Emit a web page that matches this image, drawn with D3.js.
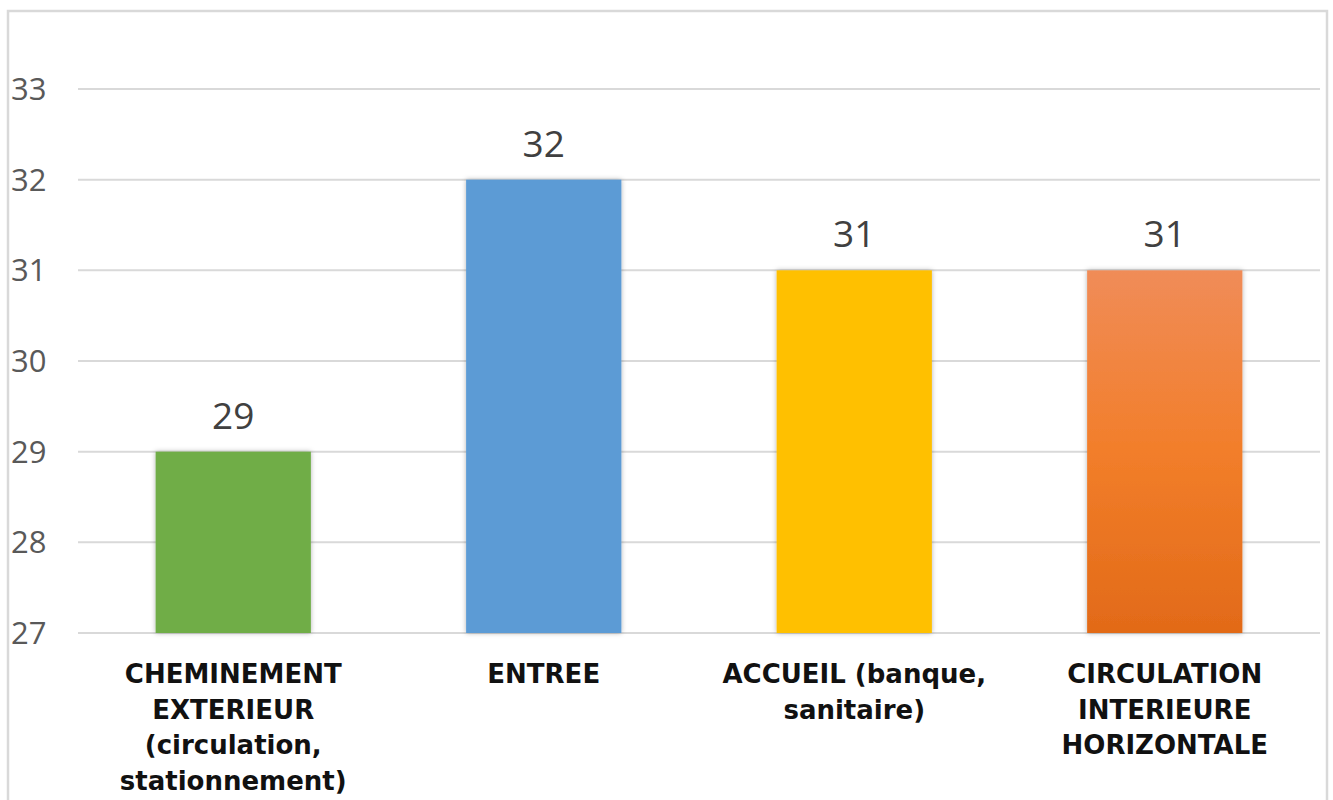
<!DOCTYPE html>
<html>
<head>
<meta charset="utf-8">
<script src="https://cdn.jsdelivr.net/npm/d3@7"></script>
<style>
  body { margin: 0; background: #fff; }
</style>
</head>
<body>
<svg class="chart"></svg>
<script>
var svgWidth = 1333, svgHeight = 800;
var categories = [
  ['CHEMINEMENT', 'EXTERIEUR', '(circulation,', 'stationnement)'],
  ['ENTREE'],
  ['ACCUEIL (banque,', 'sanitaire)'],
  ['CIRCULATION', 'INTERIEURE', 'HORIZONTALE']
];
var values = [29, 32, 31, 31];
var yTicks = [27, 28, 29, 30, 31, 32, 33];
var colors = ['#70AD47', '#5B9BD5', '#FFC000', 'url(#orangeGrad)'];

var plotLeft = 78, plotRight = 1320, plotTop = 89, plotBottom = 633;

var svg = d3.select('svg.chart').attr('width', svgWidth).attr('height', svgHeight);

var defs = svg.append('defs');
var grad = defs.append('linearGradient')
    .attr('id', 'orangeGrad')
    .attr('x1', 0).attr('y1', 0).attr('x2', 0).attr('y2', 1);
grad.append('stop').attr('offset', '0%').attr('stop-color', '#F08C58');
grad.append('stop').attr('offset', '50%').attr('stop-color', '#F27E2A');
grad.append('stop').attr('offset', '100%').attr('stop-color', '#E26A18');

var shadow = defs.append('filter')
    .attr('id', 'shadow')
    .attr('x', '-10%').attr('y', '-10%').attr('width', '120%').attr('height', '120%');
shadow.append('feDropShadow')
    .attr('dx', 0).attr('dy', 0).attr('stdDeviation', 2.5)
    .attr('flood-color', '#000').attr('flood-opacity', 0.3);

// chart frame
svg.append('rect')
    .attr('x', 8).attr('y', 11)
    .attr('width', 1319).attr('height', 820)
    .attr('fill', 'none')
    .attr('stroke', '#d9d9d9')
    .attr('stroke-width', 2.5);

var x = d3.scaleBand()
    .domain(d3.range(values.length))
    .range([plotLeft, plotRight])
    .paddingInner(0.5)
    .paddingOuter(0.25);

var y = d3.scaleLinear()
    .domain([27, 33])
    .range([plotBottom, plotTop]);

// gridlines
svg.append('g')
    .selectAll('line')
    .data(yTicks)
    .enter()
    .append('line')
    .attr('x1', plotLeft).attr('x2', plotRight)
    .attr('y1', function(d) { return y(d); })
    .attr('y2', function(d) { return y(d); })
    .attr('stroke', '#d9d9d9')
    .attr('stroke-width', 2);

// y labels
svg.append('g')
    .selectAll('text')
    .data(yTicks)
    .enter()
    .append('text')
    .attr('x', 11)
    .attr('y', function(d) { return y(d); })
    .attr('dy', '0.36em')
    .attr('font-family', 'Open Sans, sans-serif')
    .attr('font-size', 31)
    .attr('fill', '#595959')
    .text(function(d) { return d; });

// bars
svg.append('g')
    .selectAll('rect')
    .data(values)
    .enter()
    .append('rect')
    .attr('x', function(d, i) { return x(i); })
    .attr('y', function(d) { return y(d); })
    .attr('width', x.bandwidth())
    .attr('height', function(d) { return y(27) - y(d); })
    .attr('fill', function(d, i) { return colors[i]; })
    .attr('filter', 'url(#shadow)');

// value labels
svg.append('g')
    .selectAll('text')
    .data(values)
    .enter()
    .append('text')
    .attr('x', function(d, i) { return x(i) + x.bandwidth() / 2; })
    .attr('y', function(d) { return y(d) - 23; })
    .attr('text-anchor', 'middle')
    .attr('font-family', 'Open Sans, sans-serif')
    .attr('font-size', 37)
    .attr('fill', '#404040')
    .text(function(d) { return d; });

// category labels
var cat = svg.append('g')
    .selectAll('text')
    .data(categories)
    .enter()
    .append('text')
    .attr('text-anchor', 'middle')
    .attr('font-family', 'DejaVu Sans, sans-serif')
    .attr('font-weight', 'bold')
    .attr('font-size', 26)
    .attr('fill', '#111');

cat.selectAll('tspan')
    .data(function(d, i) { return d.map(function(t) { return { t: t, i: i }; }); })
    .enter()
    .append('tspan')
    .attr('x', function(d) { return x(d.i) + x.bandwidth() / 2; })
    .attr('y', function(d, j) { return 683 + j * 35.5; })
    .text(function(d) { return d.t; });
</script>
</body>
</html>
